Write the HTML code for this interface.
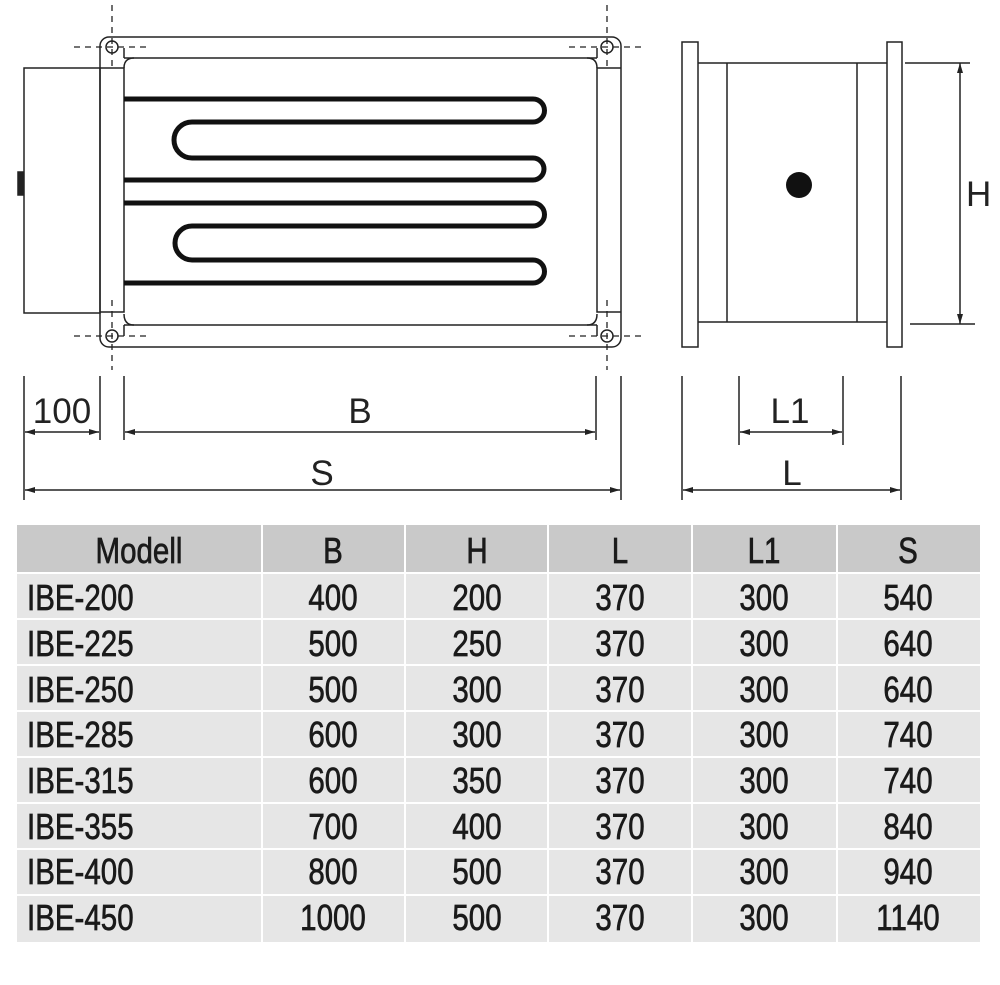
<!DOCTYPE html>
<html><head><style>
html,body{margin:0;padding:0;background:#fff;width:1000px;height:985px;overflow:hidden}
svg{display:block}
.t text{font-family:"Liberation Sans",sans-serif;font-size:36px;fill:#1a1a1a;stroke:#1a1a1a;stroke-width:0.7;transform-box:fill-box;transform:scaleX(0.82)}
.c text{transform-origin:center}
.l text{transform-origin:left}
.d{font-family:"Liberation Sans",sans-serif;font-size:35px;fill:#222}
</style></head><body>
<svg width="1000" height="985" viewBox="0 0 1000 985" xmlns="http://www.w3.org/2000/svg">
<defs>
<marker id="a" viewBox="0 0 10 6" refX="10" refY="3" markerWidth="10" markerHeight="6" orient="auto-start-reverse" markerUnits="userSpaceOnUse"><path d="M0,0L10,3L0,6z" fill="#222"/></marker>
</defs>
<g fill="none" stroke="#222" stroke-width="1.5">
<rect x="24" y="68" width="76" height="245"/>
<rect x="18" y="172" width="5" height="23" fill="#222"/>
<rect x="100" y="37" width="521" height="310" rx="9"/>
<path d="M124,58 H597 M124,325 H597"/>
<path d="M100,68 H124 V312 H100 M621,68 H597 V312 H621"/>
<path d="M124,58 V48 M124,68 Q124,58 134,58 M597,58 V48 M597,68 Q597,58 587,58"/>
<path d="M124,336 V325 M124,314 Q124,325 134,325 M597,336 V325 M597,314 Q597,325 587,325"/>
<circle cx="112" cy="47" r="6"/><circle cx="607" cy="47" r="6"/>
<circle cx="112" cy="336" r="6"/><circle cx="607" cy="336" r="6"/>
</g>
<g stroke="#222" stroke-width="1.3" stroke-dasharray="6,5" fill="none">
<path d="M112,5 V70 M74,47 H150 M607,5 V70 M569,47 H645"/>
<path d="M112,300 V370 M74,336 H150 M607,300 V370 M569,336 H645"/>
</g>
<path fill="none" stroke="#111" stroke-width="5" d="M124,99 H533 A11.5,11.5 0 0 1 533,122 H192 A18,18 0 0 0 192,158 H533 A11,11 0 0 1 533,180 H124 M124,203 H533 A11.5,11.5 0 0 1 533,226 H192 A17,17 0 0 0 192,260 H533 A11.5,11.5 0 0 1 533,283 H124"/>
<g fill="none" stroke="#222" stroke-width="1.5">
<rect x="682" y="42" width="16" height="305"/>
<rect x="887" y="42" width="15" height="305"/>
<path d="M698,63 H887 M698,322 H887 M727,63 V322 M857,63 V322"/>
<path d="M905,63 H970 M910,324 H975"/>
<path d="M960,63 V324" marker-start="url(#a)" marker-end="url(#a)"/>
<path d="M682,376 V500 M901,376 V500 M739,376 V445 M843,376 V445"/>
<path d="M740,432 H842" marker-start="url(#a)" marker-end="url(#a)"/>
<path d="M683,490 H900" marker-start="url(#a)" marker-end="url(#a)"/>
<path d="M24,376 V500 M100,376 V440 M124,376 V440 M596,376 V440 M621,376 V500"/>
<path d="M25,432 H99" marker-start="url(#a)" marker-end="url(#a)"/>
<path d="M125,432 H595" marker-start="url(#a)" marker-end="url(#a)"/>
<path d="M25,490 H620" marker-start="url(#a)" marker-end="url(#a)"/>
</g>
<circle cx="799" cy="185" r="13" fill="#111"/>
<text class="d" x="966" y="206">H</text>
<text class="d" x="790" y="423" text-anchor="middle">L1</text>
<text class="d" x="792" y="485" text-anchor="middle">L</text>
<text class="d" x="62" y="423" text-anchor="middle">100</text>
<text class="d" x="360" y="423" text-anchor="middle">B</text>
<text class="d" x="322" y="485" text-anchor="middle">S</text>
<rect x="17" y="525" width="963" height="47" fill="#c9c9c9"/>
<g fill="#e6e6e6">
<rect x="17" y="574" width="963" height="44"/>
<rect x="17" y="620" width="963" height="44"/>
<rect x="17" y="666" width="963" height="44"/>
<rect x="17" y="712" width="963" height="44"/>
<rect x="17" y="758" width="963" height="44"/>
<rect x="17" y="804" width="963" height="44"/>
<rect x="17" y="850" width="963" height="44"/>
<rect x="17" y="896" width="963" height="46"/>
</g>
<g fill="#fff">
<rect x="261" y="525" width="2" height="417"/>
<rect x="404" y="525" width="2" height="417"/>
<rect x="547" y="525" width="2" height="417"/>
<rect x="691" y="525" width="2" height="417"/>
<rect x="836" y="525" width="2" height="417"/>
</g>
<g class="t c" text-anchor="middle">
<text x="139" y="563">Modell</text><text x="333" y="563">B</text><text x="477" y="563">H</text><text x="620" y="563">L</text><text x="764" y="563">L1</text><text x="908" y="563">S</text>
</g>
<g class="t l">
<text x="27" y="610">IBE-200</text><text x="27" y="656">IBE-225</text><text x="27" y="702">IBE-250</text><text x="27" y="747">IBE-285</text><text x="27" y="793">IBE-315</text><text x="27" y="839">IBE-355</text><text x="27" y="884">IBE-400</text><text x="27" y="930">IBE-450</text>
</g>
<g class="t c" text-anchor="middle">
<text x="333" y="610">400</text><text x="477" y="610">200</text><text x="620" y="610">370</text><text x="764" y="610">300</text><text x="908" y="610">540</text>
<text x="333" y="656">500</text><text x="477" y="656">250</text><text x="620" y="656">370</text><text x="764" y="656">300</text><text x="908" y="656">640</text>
<text x="333" y="702">500</text><text x="477" y="702">300</text><text x="620" y="702">370</text><text x="764" y="702">300</text><text x="908" y="702">640</text>
<text x="333" y="747">600</text><text x="477" y="747">300</text><text x="620" y="747">370</text><text x="764" y="747">300</text><text x="908" y="747">740</text>
<text x="333" y="793">600</text><text x="477" y="793">350</text><text x="620" y="793">370</text><text x="764" y="793">300</text><text x="908" y="793">740</text>
<text x="333" y="839">700</text><text x="477" y="839">400</text><text x="620" y="839">370</text><text x="764" y="839">300</text><text x="908" y="839">840</text>
<text x="333" y="884">800</text><text x="477" y="884">500</text><text x="620" y="884">370</text><text x="764" y="884">300</text><text x="908" y="884">940</text>
<text x="333" y="930">1000</text><text x="477" y="930">500</text><text x="620" y="930">370</text><text x="764" y="930">300</text><text x="908" y="930">1140</text>
</g>
</svg>
</body></html>
